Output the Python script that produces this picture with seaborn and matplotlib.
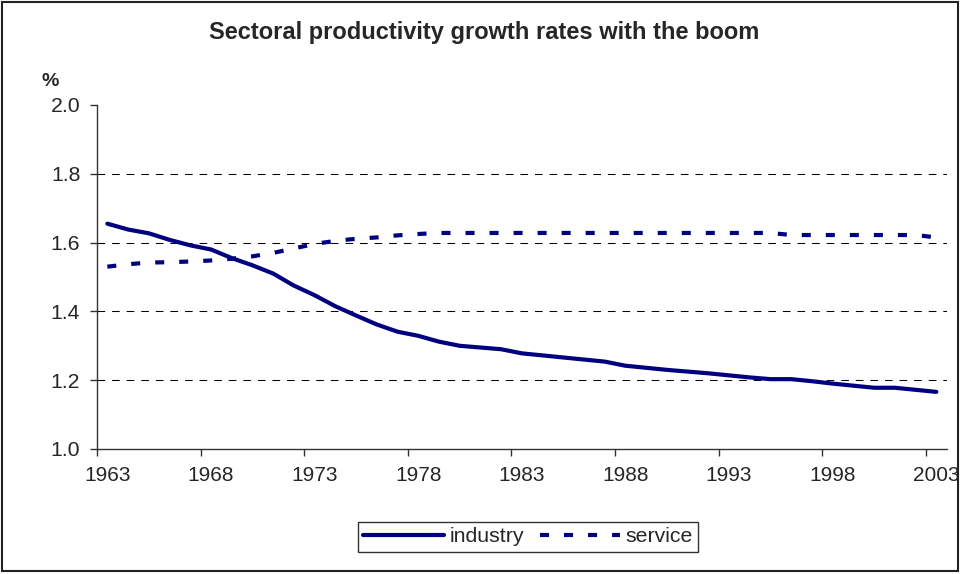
import numpy as np
import pandas as pd
import seaborn as sns
import matplotlib.pyplot as plt
from matplotlib.patches import Rectangle
from matplotlib.ticker import FixedLocator, NullFormatter, FixedFormatter

# values
years = list(range(1963, 2004))
industry = [1.655, 1.638, 1.627, 1.608, 1.592, 1.580, 1.555, 1.534, 1.510, 1.475,
            1.447, 1.415, 1.388, 1.362, 1.341, 1.329, 1.312, 1.300, 1.295, 1.290,
            1.278, 1.272, 1.266, 1.260, 1.254, 1.242, 1.236, 1.230, 1.225, 1.220,
            1.214, 1.208, 1.203, 1.203, 1.197, 1.190, 1.184, 1.178, 1.178, 1.172,
            1.166]
service = [1.530, 1.537, 1.542, 1.543, 1.545, 1.548, 1.553, 1.560, 1.570, 1.583,
           1.596, 1.605, 1.611, 1.615, 1.621, 1.625, 1.628, 1.628, 1.628, 1.628,
           1.628, 1.628, 1.628, 1.628, 1.628, 1.628, 1.628, 1.628, 1.628, 1.628,
           1.628, 1.628, 1.628, 1.622, 1.622, 1.622, 1.622, 1.622, 1.622, 1.622,
           1.615]
label_years = [str(y) for y in range(1963, 2004, 5)]
y_ticks = [1.0, 1.2, 1.4, 1.6, 1.8, 2.0]

df = pd.DataFrame({'year': years, 'industry': industry, 'service': service})

sns.set_style("white")
plt.rcParams['font.family'] = ['Liberation Sans', 'DejaVu Sans']
plt.rcParams['lines.scale_dashes'] = False

navy = '#000080'
fig = plt.figure(figsize=(9.62, 5.74), dpi=100)
ax = fig.add_axes([0.1008, 0.2178, 0.8833, 0.5993])

sns.lineplot(data=df, x='year', y='industry', ax=ax, color=navy, lw=3,
             label='industry')
sns.lineplot(data=df, x='year', y='service', ax=ax, color=navy, lw=3,
             linestyle=(0, (6.5, 10.8)), label='service')

ax.set_xlim(1962.5, 2003.5)
ax.set_ylim(1.0, 2.0)
ax.set_xlabel('')
ax.set_ylabel('')

# ticks between categories, labels on categories
ax.xaxis.set_major_locator(FixedLocator(np.arange(1962.5, 2003, 5)))
ax.xaxis.set_major_formatter(NullFormatter())
ax.xaxis.set_minor_locator(FixedLocator(range(1963, 2004, 5)))
ax.xaxis.set_minor_formatter(FixedFormatter(label_years))
ax.tick_params(axis='x', which='major', length=5, width=1, color='#333333',
               direction='out', bottom=True)
ax.tick_params(axis='x', which='minor', length=0, pad=12, labelsize=15,
               bottom=True)

ax.set_yticks(y_ticks)
ax.set_yticklabels([f'{v:.1f}' for v in y_ticks])
ax.tick_params(axis='y', length=5, width=1, color='#333333', direction='out',
               pad=7, labelsize=15.3, left=True)

ax.yaxis.grid(True, color='black', lw=0.75, linestyle=(0, (5.5, 5)))
ax.set_axisbelow(True)
ax.yaxis.get_gridlines()[-1].set_visible(False)
ax.yaxis.get_gridlines()[0].set_visible(False)

for side in ['top', 'right']:
    ax.spines[side].set_visible(False)
for side in ['left', 'bottom']:
    ax.spines[side].set_color('#333333')
    ax.spines[side].set_linewidth(1)

fig.text(0.503, 1 - 33 / 574, 'Sectoral productivity growth rates with the boom',
         ha='center', va='center', fontsize=17, fontweight='bold')
fig.text(0.052, 1 - 82 / 574, '%', ha='center', va='center', fontsize=14,
         fontweight='bold')

handles, labels = ax.get_legend_handles_labels()
leg = ax.legend(handles, labels, loc='center', bbox_to_anchor=(0.549, 0.0645),
                bbox_transform=fig.transFigure, ncol=2, fontsize=15.3,
                frameon=True, fancybox=False, edgecolor='black',
                handlelength=3.8, handletextpad=0.25, columnspacing=0.75,
                borderpad=0.25)
leg.get_frame().set_linewidth(1)

fig.patches.append(Rectangle((2 / 962, 3 / 574), 956 / 962, 569 / 574,
                             transform=fig.transFigure, fill=False,
                             edgecolor='#222222', lw=1.5))

fig.savefig('out.png', dpi=100)
